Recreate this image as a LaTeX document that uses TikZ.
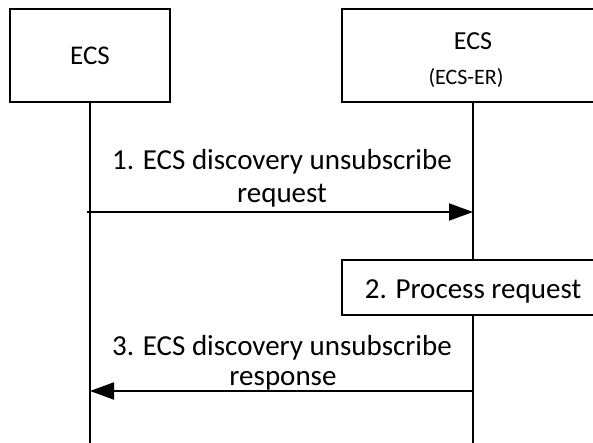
\documentclass[tikz,border=0pt]{standalone}
\usepackage{fontspec}
\setmainfont{Carlito}
\usetikzlibrary{arrows.meta}
\begin{document}
\begin{tikzpicture}[x=1pt,y=-1pt,
  box/.style={draw,line width=2pt,inner sep=0pt,fill=white},
  life/.style={line width=2pt},
  msg/.style={line width=2pt,-{Triangle[length=24pt,width=17pt]}},
  lbl/.style={inner sep=0pt,anchor=base,font=\fontsize{29}{33}\selectfont}]
\useasboundingbox (0,0) rectangle (593,443);
\node[box,minimum width=160pt,minimum height=93pt] (lbox) at (90,55.5) {};
\node[box,minimum width=262pt,minimum height=93pt] (rbox) at (473,55.5) {};
\node[box,minimum width=262pt,minimum height=55pt] (proc) at (473,287.5) {};
\node[inner sep=0pt,anchor=base,font=\fontsize{27}{30}\selectfont] (lname) at (90,65) {ECS};
\node[inner sep=0pt,anchor=base,font=\fontsize{26}{30}\selectfont] (rname) at (473,50) {ECS};
\node[inner sep=0pt,anchor=base,font=\fontsize{22}{26}\selectfont] (rsub) at (466,85) {(ECS-ER)};
\node[lbl] (ptext) at (473,298) {2. Process request};
\coordinate (lend) at (90,443);
\coordinate (rend) at (473,443);
\draw[life] (lbox.south) -- (lend);
\draw[life] (rbox.south) -- (proc.north);
\draw[life] (proc.south) -- (rend);
\coordinate (a1s) at (87,212);
\coordinate (a1e) at (473,212);
\coordinate (a3s) at (473,391);
\coordinate (a3e) at (90,391);
\draw[msg] (a1s) -- (a1e);
\draw[msg] (a3s) -- (a3e);
\node[lbl] (m1a) at (282,170) {1. ECS discovery unsubscribe};
\node[lbl] (m1b) at (282,203) {request};
\node[lbl] (m3a) at (282,355) {3. ECS discovery unsubscribe};
\node[lbl] (m3b) at (283,385) {response};
\end{tikzpicture}
\end{document}
